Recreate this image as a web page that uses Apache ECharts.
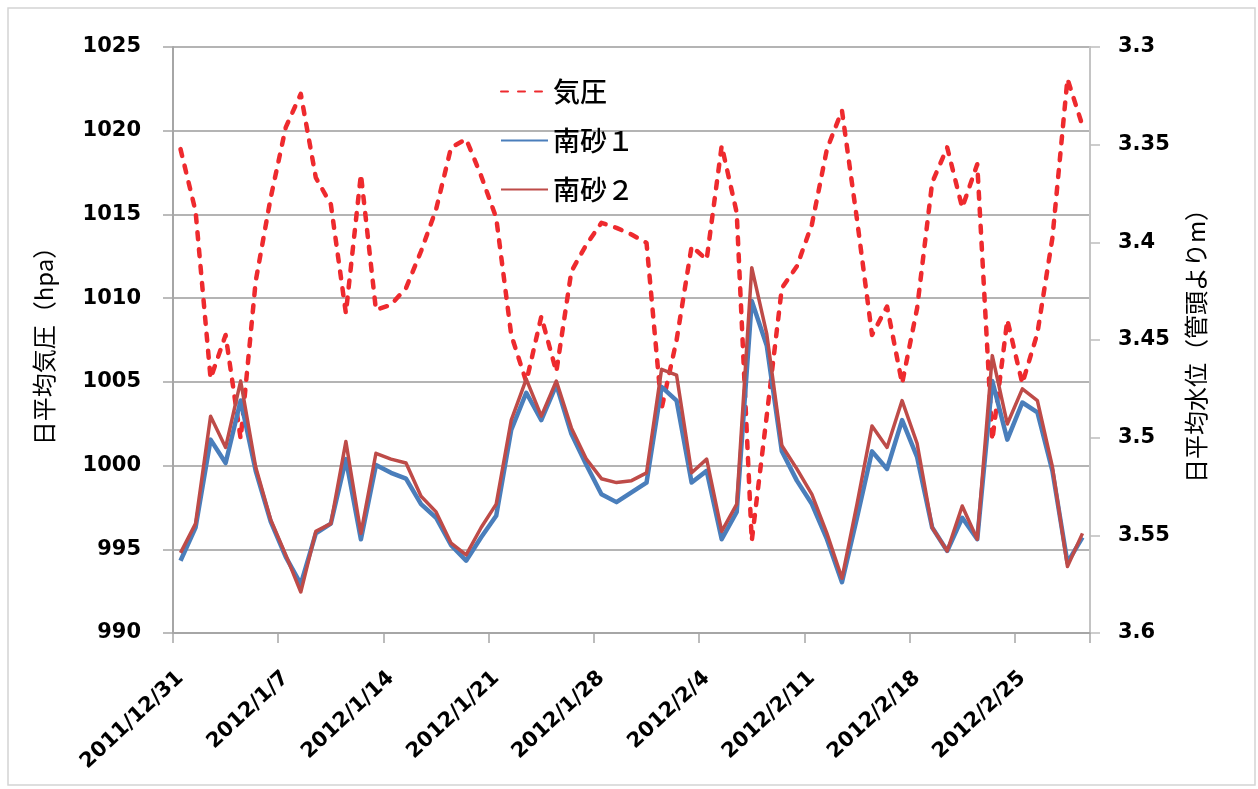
<!DOCTYPE html>
<html>
<head>
<meta charset="utf-8">
<title>日平均気圧と日平均水位</title>
<script src="https://cdn.jsdelivr.net/npm/echarts@6/dist/echarts.min.js"></script>
<style>
  html, body { margin: 0; padding: 0; background: #fff; }
  #chart { width: 1258px; height: 789px; }
</style>
</head>
<body>
<div id="chart"></div>
<script>
// Daily dates, 2011/12/31 – 2012/2/29
const dates = [
  '2011/12/31',
  '2012/1/1', '2012/1/2', '2012/1/3', '2012/1/4', '2012/1/5', '2012/1/6', '2012/1/7',
  '2012/1/8', '2012/1/9', '2012/1/10', '2012/1/11', '2012/1/12', '2012/1/13', '2012/1/14',
  '2012/1/15', '2012/1/16', '2012/1/17', '2012/1/18', '2012/1/19', '2012/1/20', '2012/1/21',
  '2012/1/22', '2012/1/23', '2012/1/24', '2012/1/25', '2012/1/26', '2012/1/27', '2012/1/28',
  '2012/1/29', '2012/1/30', '2012/1/31',
  '2012/2/1', '2012/2/2', '2012/2/3', '2012/2/4', '2012/2/5', '2012/2/6', '2012/2/7',
  '2012/2/8', '2012/2/9', '2012/2/10', '2012/2/11', '2012/2/12', '2012/2/13', '2012/2/14',
  '2012/2/15', '2012/2/16', '2012/2/17', '2012/2/18', '2012/2/19', '2012/2/20', '2012/2/21',
  '2012/2/22', '2012/2/23', '2012/2/24', '2012/2/25', '2012/2/26', '2012/2/27', '2012/2/28',
  '2012/2/29'
];

// Daily mean air pressure (hPa), left axis
const pressure = [
  1018.9, 1015.2, 1005.2, 1007.8, 1001.6, 1011.0, 1016.0, 1020.2, 1022.2, 1017.2,
  1015.6, 1009.1, 1017.4, 1009.3, 1009.6, 1010.6, 1012.8, 1015.3, 1019.0, 1019.5,
  1017.3, 1014.8, 1007.8, 1005.0, 1008.9, 1005.6, 1011.6, 1013.2, 1014.5, 1014.2,
  1013.8, 1013.3, 1003.4, 1007.5, 1013.1, 1012.3, 1019.1, 1015.1, 995.5, 1003.0,
  1010.6, 1011.9, 1014.4, 1018.9, 1021.2, 1014.7, 1007.8, 1009.5, 1004.9, 1009.4,
  1016.9, 1019.0, 1015.4, 1018.0, 1001.5, 1008.7, 1004.9, 1007.9, 1013.6, 1023.1,
  1020.3
];

// Daily mean water level below well head (m), right axis — 南砂1
const minamisuna1 = [
  3.563, 3.546, 3.501, 3.513, 3.481, 3.517, 3.543, 3.561, 3.575, 3.549,
  3.544, 3.511, 3.552, 3.514, 3.518, 3.521, 3.534, 3.541, 3.555, 3.563,
  3.551, 3.540, 3.496, 3.477, 3.491, 3.473, 3.498, 3.514, 3.529, 3.533,
  3.528, 3.523, 3.474, 3.481, 3.523, 3.517, 3.552, 3.538, 3.430, 3.453,
  3.507, 3.522, 3.534, 3.552, 3.574, 3.541, 3.507, 3.516, 3.491, 3.510,
  3.546, 3.558, 3.541, 3.552, 3.471, 3.501, 3.482, 3.487, 3.517, 3.564,
  3.551
];

// Daily mean water level below well head (m), right axis — 南砂2
const minamisuna2 = [
  3.559, 3.544, 3.489, 3.505, 3.471, 3.515, 3.542, 3.560, 3.579, 3.548,
  3.544, 3.502, 3.549, 3.508, 3.511, 3.513, 3.530, 3.538, 3.554, 3.560,
  3.546, 3.534, 3.491, 3.470, 3.489, 3.471, 3.495, 3.511, 3.521, 3.523,
  3.522, 3.518, 3.465, 3.468, 3.518, 3.511, 3.548, 3.534, 3.413, 3.447,
  3.504, 3.516, 3.529, 3.549, 3.572, 3.534, 3.494, 3.505, 3.481, 3.503,
  3.546, 3.558, 3.535, 3.552, 3.458, 3.493, 3.475, 3.481, 3.515, 3.566,
  3.549
];

const seriesNames = ['気圧', '南砂１', '南砂２'];
const leftAxisName = '日平均気圧（hpa）';
const rightAxisName = '日平均水位（管頭よりm）';

const tickFont = {
  fontFamily: 'DejaVu Sans',
  fontWeight: 'bold',
  fontSize: 21,
  color: '#000'
};
const nameFont = {
  fontFamily: 'Noto Sans CJK JP',
  fontSize: 24,
  color: '#000'
};
const axisGray = '#A6A6A6';

const chart = echarts.init(document.getElementById('chart'), null, { renderer: 'canvas' });

chart.setOption({
  animation: false,
  backgroundColor: '#ffffff',
  graphic: [
    {
      // outer frame of the chart area
      type: 'rect',
      silent: true,
      z: -10,
      shape: { x: 8, y: 8, width: 1247, height: 777 },
      style: { fill: 'none', stroke: '#D4D4D4', lineWidth: 1.5 }
    },
    {
      // title of the (inverted) right axis, reading bottom to top
      type: 'text',
      silent: true,
      x: 1196,
      y: 340,
      rotation: Math.PI / 2,
      style: {
        text: rightAxisName,
        fontFamily: nameFont.fontFamily,
        fontSize: nameFont.fontSize,
        fill: nameFont.color,
        align: 'center',
        verticalAlign: 'middle'
      }
    }
  ],
  grid: { left: 173, right: 168, top: 47, bottom: 156 },
  legend: {
    orient: 'vertical',
    left: 495,
    top: 73,
    itemWidth: 47,
    itemHeight: 14,
    itemGap: 22,
    data: seriesNames,
    // line-only keys: hide the marker dot drawn on each key
    itemStyle: { opacity: 0 },
    textStyle: {
      fontFamily: 'Noto Sans CJK JP',
      fontSize: 27,
      fontWeight: 500,
      color: '#000'
    }
  },
  xAxis: {
    type: 'category',
    data: dates,
    boundaryGap: true,
    axisLine: { lineStyle: { color: axisGray, width: 2 } },
    axisTick: { show: true, interval: 6, length: 10, lineStyle: { color: axisGray, width: 1.5 } },
    axisLabel: Object.assign({ interval: 6, rotate: 43, margin: 42 }, tickFont),
    splitLine: { show: false }
  },
  yAxis: [
    {
      type: 'value',
      position: 'left',
      min: 990,
      max: 1025,
      interval: 5,
      name: leftAxisName,
      nameLocation: 'middle',
      nameRotate: 90,
      nameGap: 117,
      nameTextStyle: nameFont,
      axisLine: { show: true, lineStyle: { color: axisGray, width: 2 } },
      axisTick: { show: true, length: 10, lineStyle: { color: axisGray, width: 1.5 } },
      axisLabel: Object.assign({ margin: 32, formatter: (v) => String(v) }, tickFont),
      splitLine: { show: true, lineStyle: { color: '#B4B4B4', width: 2 } }
    },
    {
      type: 'value',
      position: 'right',
      inverse: true,
      min: 3.3,
      max: 3.6,
      interval: 0.05,
      axisLine: { show: true, lineStyle: { color: '#C4C4C4', width: 2 } },
      axisTick: { show: true, length: 10, lineStyle: { color: '#BDBDBD', width: 1.5 } },
      axisLabel: Object.assign({ margin: 28 }, tickFont),
      splitLine: { show: false }
    }
  ],
  series: [
    {
      name: seriesNames[0],
      type: 'line',
      yAxisIndex: 0,
      data: pressure,
      symbol: 'none',
      z: 2,
      itemStyle: { color: '#EE2A2E' },
      lineStyle: { color: '#EE2A2E', width: 4.5, type: [7, 10], cap: 'round', join: 'round' }
    },
    {
      name: seriesNames[1],
      type: 'line',
      yAxisIndex: 1,
      data: minamisuna1,
      symbol: 'none',
      z: 3,
      itemStyle: { color: '#4A7EBB' },
      lineStyle: { color: '#4A7EBB', width: 4.5, join: 'round' }
    },
    {
      name: seriesNames[2],
      type: 'line',
      yAxisIndex: 1,
      data: minamisuna2,
      symbol: 'none',
      z: 4,
      itemStyle: { color: '#BE4B48' },
      lineStyle: { color: '#BE4B48', width: 3.5, join: 'round' }
    }
  ]
});
</script>
</body>
</html>
